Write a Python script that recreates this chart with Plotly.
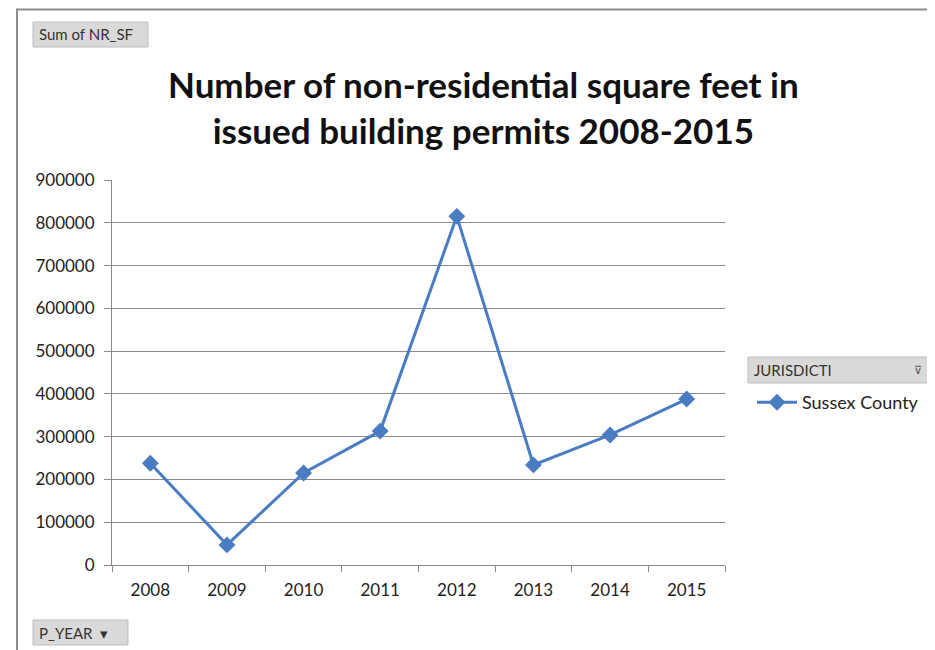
import plotly.graph_objects as go

years = ["2008", "2009", "2010", "2011", "2012", "2013", "2014", "2015"]
nr_sf = [238000, 47000, 215000, 313000, 815000, 234000, 304000, 388000]
series_name = "Sussex County"
y_ticks = [0, 100000, 200000, 300000, 400000, 500000, 600000, 700000, 800000, 900000]

W, H = 935, 650
OFF = 8  # page body offset
# target plot area in screen pixels
X0, X1, Y0, Y1 = 112, 725, 180, 565
L, T = X0 - OFF, Y0 - OFF
R, B = W - (X1 - OFF), H - (Y1 - OFF)
PW, PH = X1 - X0, Y1 - Y0

def px(x):
    return (x - X0) / PW

def py(y):
    return (Y1 - y) / PH

FONT = "Lato, 'Open Sans', sans-serif"
BLUE = "#4a7cc2"

fig = go.Figure()
fig.add_trace(go.Scatter(
    x=years, y=nr_sf, mode="lines+markers", name=series_name,
    line=dict(color=BLUE, width=3),
    marker=dict(symbol="diamond", size=13, color=BLUE),
))

shapes = [
    dict(type="rect", xref="paper", yref="paper",
         x0=px(17), x1=px(945), y0=py(660), y1=py(9.5),
         line=dict(color="#8c8c8c", width=2), fillcolor="rgba(0,0,0,0)", layer="below"),
]
annotations = [
    dict(text="<b>Number of non-residential square feet in<br>issued building permits 2008-2015</b>",
         xref="paper", yref="paper", x=px(483), y=py(107), xanchor="center", yanchor="middle",
         showarrow=False, font=dict(family=FONT, size=35, color="#111"), align="center"),
]

def button(x0, y0, x1, y1, text, pad=4):
    shapes.append(dict(type="rect", xref="paper", yref="paper",
                       x0=px(x0), x1=px(x1), y0=py(y1), y1=py(y0),
                       line=dict(color="#bdbdbd", width=1), fillcolor="#d9d9d9"))
    annotations.append(dict(text=text, xref="paper", yref="paper",
                            x=px(x0 + pad), y=py((y0 + y1) / 2), xanchor="left", yanchor="middle",
                            showarrow=False, font=dict(family=FONT, size=15, color="#333")))

button(33, 22, 148, 47, "Sum of NR_SF")
button(33, 620, 128, 645, "P_YEAR  ▾")
button(748, 357, 930, 383, "JURISDICTI")
annotations.append(dict(text="⊽", xref="paper", yref="paper", x=px(918), y=py(369),
                        xanchor="center", yanchor="middle", showarrow=False,
                        font=dict(size=11, color="#555")))

fig.update_layout(
    width=W, height=H,
    margin=dict(l=L, r=R, t=T, b=B),
    paper_bgcolor="white", plot_bgcolor="white",
    showlegend=True,
    legend=dict(x=px(752), y=py(384), xanchor="left", yanchor="top",
                font=dict(family=FONT, size=18, color="#222"), bgcolor="rgba(0,0,0,0)",
                itemwidth=40),
    shapes=shapes, annotations=annotations,
    xaxis=dict(type="category", tickson="boundaries", ticks="outside", ticklen=6,
               tickcolor="#888", showline=True, linecolor="#888", linewidth=1,
               showgrid=False, tickfont=dict(family=FONT, size=17, color="#222"),
               ticklabelstandoff=10, range=[-0.5, 7.5]),
    yaxis=dict(range=[0, 900000], tickvals=y_ticks, ticktext=[str(v) for v in y_ticks],
               ticks="outside", ticklen=7, tickcolor="#888", showline=True,
               linecolor="#888", linewidth=1, showgrid=True, gridcolor="#8a8a8a",
               gridwidth=1, zeroline=False, ticklabelstandoff=6,
               tickfont=dict(family=FONT, size=17, color="#222")),
)

fig.write_html("out.html")
